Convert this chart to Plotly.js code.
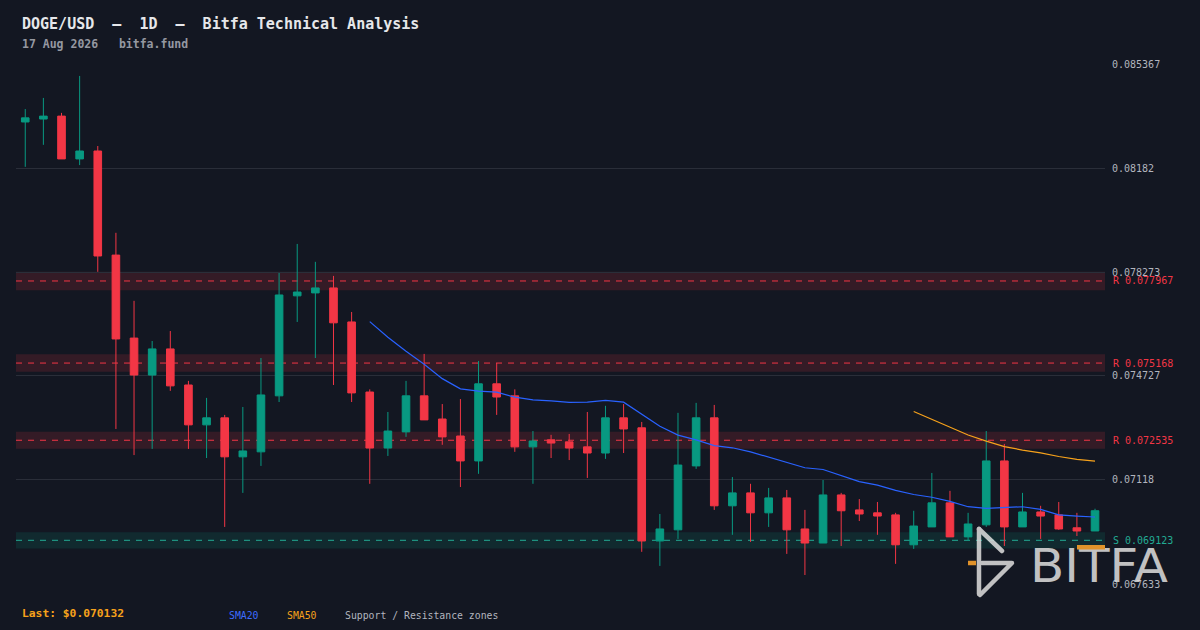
<!DOCTYPE html>
<html>
<head>
<meta charset="utf-8">
<script src="https://cdn.plot.ly/plotly-3.0.1.min.js"></script>
<style>
html,body{margin:0;padding:0;background:#131722;}
#chart{width:1200px;height:630px;}
</style>
</head>
<body>
<div id="chart"></div>
<script>
// ---- data ----
const lastDate = '2026-08-17';
const openP = [0.08339,0.08349,0.08359,0.08213,0.08240,0.07885,0.07602,0.07476,0.07565,0.07442,
0.07306,0.07330,0.07197,0.07214,0.07405,0.07746,0.07756,0.07773,0.07657,0.07418,
0.07227,0.07282,0.07405,0.07326,0.07268,0.07183,0.07446,0.07405,0.07231,0.07255,
0.07248,0.07231,0.07210,0.07330,0.07296,0.06910,0.06948,0.07166,0.07330,0.07030,
0.07074,0.07006,0.07057,0.06951,0.06903,0.07067,0.07016,0.07006,0.06999,0.06897,
0.06958,0.07040,0.06924,0.06965,0.07183,0.06958,0.07009,0.06999,0.06955,0.06944];
const highP = [0.08383,0.08421,0.08370,0.08496,0.08257,0.07961,0.07729,0.07592,0.07626,0.07456,
0.07398,0.07340,0.07367,0.07534,0.07824,0.07923,0.07862,0.07814,0.07691,0.07427,
0.07350,0.07456,0.07548,0.07377,0.07394,0.07524,0.07517,0.07427,0.07285,0.07272,
0.07275,0.07350,0.07371,0.07377,0.07316,0.07002,0.07347,0.07381,0.07374,0.07128,
0.07105,0.07091,0.07084,0.07016,0.07118,0.07074,0.07053,0.07043,0.07006,0.07013,
0.07142,0.07081,0.07006,0.07285,0.07241,0.07074,0.07030,0.07043,0.07006,0.07020];
const lowP = [0.08186,0.08261,0.08213,0.08192,0.07828,0.07292,0.07203,0.07224,0.07422,0.07224,
0.07193,0.06958,0.07074,0.07166,0.07384,0.07657,0.07534,0.07442,0.07384,0.07105,
0.07200,0.07265,0.07323,0.07238,0.07094,0.07139,0.07340,0.07214,0.07105,0.07193,
0.07186,0.07125,0.07190,0.07210,0.06873,0.06825,0.06917,0.07156,0.07016,0.06931,
0.06907,0.06958,0.06866,0.06794,0.06903,0.06893,0.06978,0.06931,0.06832,0.06883,
0.06958,0.06924,0.06910,0.06958,0.06893,0.06958,0.06917,0.06948,0.06927,0.06944];
const closeP = [0.08353,0.08359,0.08213,0.08240,0.07882,0.07599,0.07476,0.07565,0.07439,0.07306,
0.07330,0.07197,0.07217,0.07408,0.07749,0.07759,0.07773,0.07654,0.07415,0.07227,
0.07285,0.07405,0.07323,0.07265,0.07183,0.07446,0.07401,0.07231,0.07251,0.07244,
0.07227,0.07210,0.07330,0.07292,0.06910,0.06951,0.07169,0.07330,0.07030,0.07074,
0.07006,0.07057,0.06948,0.06903,0.07067,0.07013,0.07002,0.06995,0.06897,0.06961,
0.07040,0.06924,0.06968,0.07183,0.06958,0.07009,0.06995,0.06951,0.06944,0.070132];
const resistanceLevels = [0.077967, 0.075168, 0.072535];
const supportLevels = [0.069123];
const tickValues = [0.085367, 0.08182, 0.078273, 0.074727, 0.07118, 0.067633];
const tickLabels = ['0.085367','0.08182','0.078273','0.074727','0.07118','0.067633'];
const lastPrice = '0.070132';

// ---- build ----
const dates = [];
{
  const end = new Date(lastDate + 'T00:00:00Z');
  for (let i = closeP.length - 1; i >= 0; i--) {
    const d = new Date(end.getTime() - i * 86400000);
    dates.push(d.toISOString().slice(0, 10));
  }
}
function sma(arr, n) {
  const xs = [], ys = [];
  for (let i = n - 1; i < arr.length; i++) {
    let s = 0;
    for (let k = i - n + 1; k <= i; k++) s += arr[k];
    xs.push(dates[i]); ys.push(s / n);
  }
  return {xs, ys};
}
const s20 = sma(closeP, 20), s50 = sma(closeP, 50);

const GREEN = '#089981', RED = '#f23645', BLUE = '#2962ff', ORANGE = '#f7a21b';
const FONT = 'DejaVu Sans Mono, monospace';

const traces = [
  {type:'candlestick', x:dates, open:openP, high:highP, low:lowP, close:closeP,
   increasing:{line:{color:GREEN, width:1}, fillcolor:GREEN},
   decreasing:{line:{color:RED, width:1}, fillcolor:RED},
   whiskerwidth:0, hoverinfo:'skip'},
  {type:'scatter', mode:'lines', x:s20.xs, y:s20.ys, line:{color:BLUE, width:1.2}, hoverinfo:'skip'},
  {type:'scatter', mode:'lines', x:s50.xs, y:s50.ys, line:{color:ORANGE, width:1.2}, hoverinfo:'skip'}
];

const shapes = [], annotations = [];
function zone(level, fill, lineCol, label, labelCol) {
  shapes.push({type:'rect', xref:'paper', x0:0, x1:1, yref:'y', y0:level*0.996, y1:level*1.004,
    fillcolor:fill, line:{width:0}, layer:'below'});
  shapes.push({type:'line', xref:'paper', x0:0, x1:1, yref:'y', y0:level, y1:level,
    line:{color:lineCol, width:1, dash:'6px,6px'}, layer:'below'});
  annotations.push({xref:'paper', x:1, xshift:6, xanchor:'left', yref:'y', y:level, yanchor:'middle',
    text:label, showarrow:false, font:{family:FONT, size:10, color:labelCol}});
}
resistanceLevels.forEach(l => zone(l, 'rgba(242,54,69,0.15)', RED, 'R ' + l, RED));
supportLevels.forEach(l => zone(l, 'rgba(8,153,129,0.15)', '#22ab94', 'S ' + l, '#22ab94'));

function px(xp){ return (xp - 16) / 1089; }
function py(yp){ return (584 - yp) / 520; }
annotations.push(
  {xref:'paper', yref:'paper', x:px(20), y:py(24), xanchor:'left', yanchor:'middle', showarrow:false,
   text:'<b>DOGE/USD  \u2013  1D  \u2013  Bitfa Technical Analysis</b>', font:{family:FONT, size:15, color:'#e6e7ea'}},
  {xref:'paper', yref:'paper', x:px(20), y:py(44), xanchor:'left', yanchor:'middle', showarrow:false,
   text:'<b>17 Aug 2026   bitfa.fund</b>', font:{family:FONT, size:11.5, color:'#9598a1'}},
  {xref:'paper', yref:'paper', x:px(20), y:py(613), xanchor:'left', yanchor:'middle', showarrow:false,
   text:'<b>Last: $' + lastPrice + '</b>', font:{family:FONT, size:11.3, color:ORANGE}},
  {xref:'paper', yref:'paper', x:px(227), y:py(615), xanchor:'left', yanchor:'middle', showarrow:false,
   text:'SMA20', font:{family:FONT, size:9.8, color:'#3d6cff'}},
  {xref:'paper', yref:'paper', x:px(285), y:py(615), xanchor:'left', yanchor:'middle', showarrow:false,
   text:'SMA50', font:{family:FONT, size:9.8, color:ORANGE}},
  {xref:'paper', yref:'paper', x:px(343), y:py(615), xanchor:'left', yanchor:'middle', showarrow:false,
   text:'Support / Resistance zones', font:{family:FONT, size:9.8, color:'#b2b5be'}}
);

// watermark logo (SVG image)
const logoSvg = '<svg xmlns="http://www.w3.org/2000/svg" width="220" height="80" viewBox="0 0 220 80">' +
  '<g opacity="0.88" stroke="#d9d9d9" stroke-width="4.5" stroke-linecap="round" stroke-linejoin="round" fill="none">' +
  '<line x1="19" y1="9" x2="19" y2="74"/>' +
  '<line x1="19" y1="9" x2="42" y2="31"/>' +
  '<polyline points="22,43 52,43 20,75"/>' +
  '</g>' +
  '<line x1="8" y1="43" x2="16" y2="43" stroke="#e0922a" stroke-width="4.5"/>' +
  '<text x="70" y="62" font-family="DejaVu Sans, sans-serif" font-size="46" fill="#d9d9d9" opacity="0.88" textLength="138" lengthAdjust="spacingAndGlyphs">BITFA</text>' +
  '<rect x="117" y="25" width="28" height="4.5" fill="#e0922a"/>' +
  '</svg>';
const images = [{
  source:'data:image/svg+xml;charset=utf-8,' + encodeURIComponent(logoSvg),
  xref:'paper', yref:'paper', x:px(960), y:py(520), sizex:220/1089, sizey:80/520,
  xanchor:'left', yanchor:'top', sizing:'stretch', layer:'above'
}];

const layout = {
  width:1200, height:630,
  margin:{l:16, r:95, t:64, b:46, pad:0},
  paper_bgcolor:'#131722', plot_bgcolor:'#131722',
  showlegend:false, boxgap:0.4,
  xaxis:{type:'category', range:[-0.51, 59.55], showgrid:false, showticklabels:false,
    zeroline:false, showline:false, ticks:'', rangeslider:{visible:false}, fixedrange:true},
  yaxis:{side:'right', range:[0.0676329, 0.0853671], tickvals:tickValues, ticktext:tickLabels,
    showgrid:true, gridcolor:'#2a2e39', gridwidth:1, zeroline:false, showline:false, ticks:'',
    ticklabelstandoff:6, tickfont:{family:FONT, size:10, color:'#b2b5be'}, fixedrange:true},
  shapes, annotations, images
};
Plotly.newPlot('chart', traces, layout, {staticPlot:true, displayModeBar:false});
</script>
</body>
</html>
